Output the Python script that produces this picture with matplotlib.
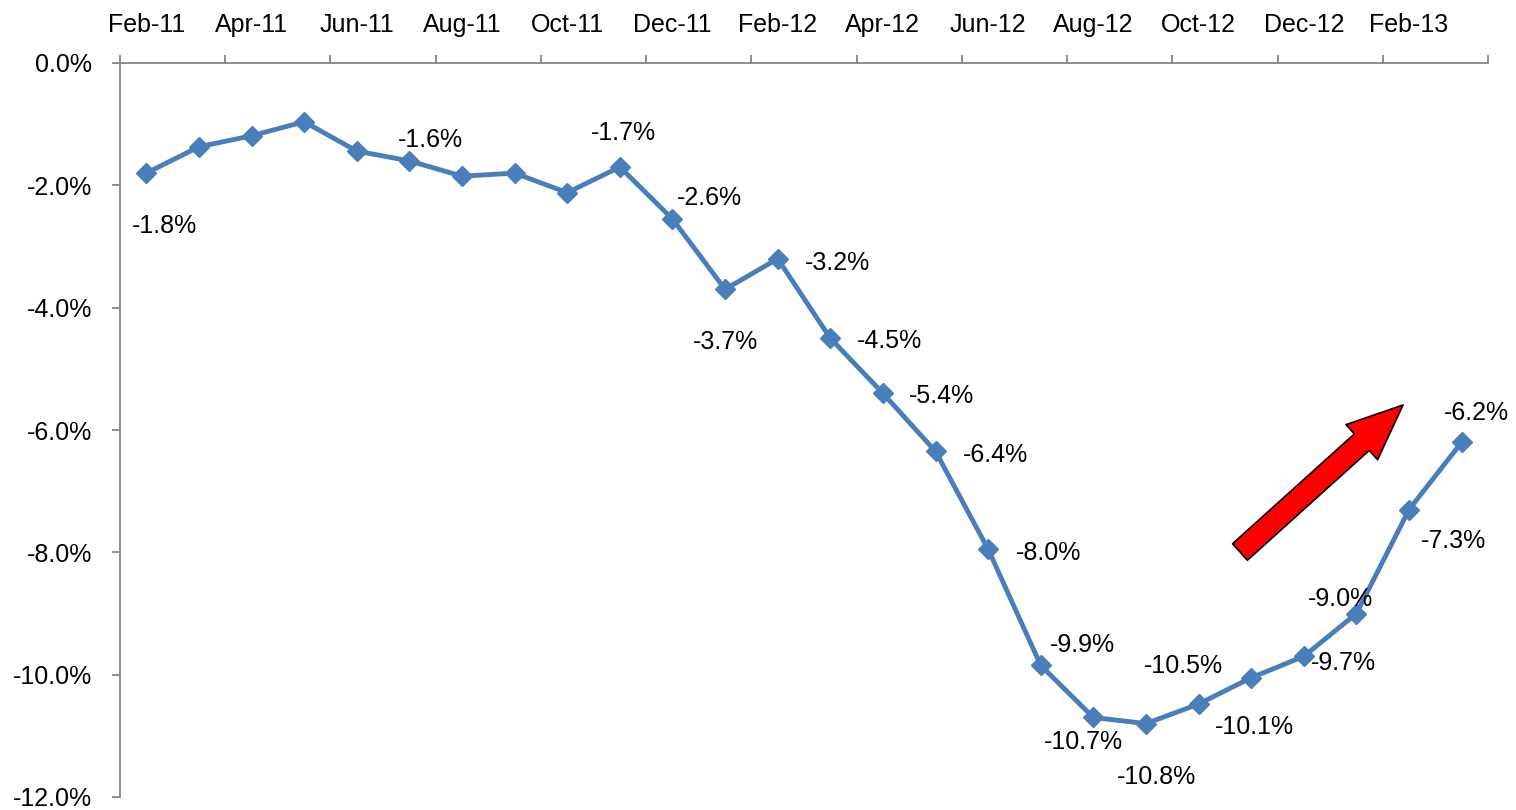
import numpy as np
import matplotlib
matplotlib.use("Agg")
import matplotlib.pyplot as plt
from matplotlib.patches import FancyArrowPatch

# monthly values, Feb-11 .. Mar-13
months = ["Feb-11", "Mar-11", "Apr-11", "May-11", "Jun-11", "Jul-11", "Aug-11",
          "Sep-11", "Oct-11", "Nov-11", "Dec-11", "Jan-12", "Feb-12", "Mar-12",
          "Apr-12", "May-12", "Jun-12", "Jul-12", "Aug-12", "Sep-12", "Oct-12",
          "Nov-12", "Dec-12", "Jan-13", "Feb-13", "Mar-13"]
values = [-1.8, -1.37, -1.19, -0.96, -1.44, -1.6, -1.85, -1.8, -2.12, -1.7,
          -2.55, -3.7, -3.2, -4.5, -5.4, -6.35, -7.95, -9.85, -10.7, -10.8,
          -10.48, -10.05, -9.7, -9.0, -7.3, -6.2]
# which points carry a data label
labelled = ["Feb-11", "Jul-11", "Nov-11", "Dec-11", "Jan-12", "Feb-12", "Mar-12",
            "Apr-12", "May-12", "Jun-12", "Jul-12", "Aug-12", "Sep-12", "Oct-12",
            "Nov-12", "Dec-12", "Jan-13", "Feb-13", "Mar-13"]
label_text = ["-1.8%", "-1.6%", "-1.7%", "-2.6%", "-3.7%", "-3.2%", "-4.5%",
              "-5.4%", "-6.4%", "-8.0%", "-9.9%", "-10.7%", "-10.8%", "-10.5%",
              "-10.1%", "-9.7%", "-9.0%", "-7.3%", "-6.2%"]
y_ticks = [0, -2, -4, -6, -8, -10, -12]

# label offsets in pixels (placement only)
offsets = [(18, -53), (21, 21), (4, 34), (37, 21), (0, -53), (60, -4), (59, -3),
           (59, -3), (60, -4), (60, -4), (42, 20), (-10, -25), (10, -53),
           (-15, 38), (3, -49), (40, -7), (-16, 14), (44, -31), (15, 29)]

plt.rcParams['font.family'] = ['Liberation Sans', 'DejaVu Sans']
FS = 18
grey = '#868686'
blue = '#4A7EBB'

fig = plt.figure(figsize=(15.16, 8.10), dpi=100)
ax = fig.add_axes([120 / 1516, 1 - 797 / 810, 1368 / 1516, 734 / 810])

x = np.arange(len(months))
ax.plot(x, values, color=blue, lw=3.5, marker='D', markersize=10.5, zorder=3,
        clip_on=False)

for name, txt, off in zip(labelled, label_text, offsets):
    i = months.index(name)
    ax.annotate(txt, (x[i], values[i]), xytext=off, textcoords='offset pixels',
                ha='center', va='center', fontsize=FS)

ax.set_xlim(-0.5, len(months) - 0.5)
ax.set_ylim(-12, 0)

# x axis on top: tick marks at boundaries, labels at every other category
ax.xaxis.tick_top()
ax.set_xticks(np.arange(-0.5, len(months), 2))
ax.set_xticklabels([])
ax.set_xticks(x[::2], minor=True)
ax.set_xticklabels(months[::2], minor=True)
ax.tick_params(axis='x', which='major', direction='out', length=6, width=1.3,
               color=grey, top=True, bottom=False)
ax.tick_params(axis='x', which='minor', length=0, pad=19, labelsize=FS,
               top=True, bottom=False, labeltop=True, labelbottom=False)

ax.set_yticks(y_ticks)
ax.set_yticklabels([f"{v:.1f}%" for v in y_ticks])
ax.tick_params(axis='y', direction='out', length=6, width=1.3, color=grey,
               pad=14, labelsize=FS)

for s in ['bottom', 'right']:
    ax.spines[s].set_visible(False)
for s in ['top', 'left']:
    ax.spines[s].set_color(grey)
    ax.spines[s].set_linewidth(1.3)

# red trend arrow
arrow = FancyArrowPatch((0.8187, 0.3338), (0.9379, 0.5341), transform=ax.transAxes,
                        arrowstyle='simple,head_width=34,head_length=40,tail_width=16',
                        mutation_scale=1, shrinkA=0, shrinkB=0,
                        facecolor='#FF0000', edgecolor='black', lw=1.2, zorder=4)
ax.add_patch(arrow)

fig.savefig("out.png", dpi=100)
